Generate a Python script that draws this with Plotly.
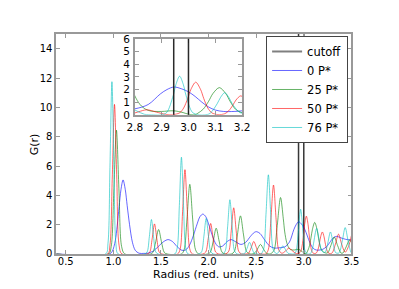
import plotly.graph_objects as go

# ---- data ----
series_names = ["0 P*", "25 P*", "50 P*", "76 P*"]
series_colors = ["rgba(0,0,255,0.6)", "rgba(0,128,0,0.6)", "rgba(255,0,0,0.6)", "rgba(0,191,191,0.6)"]

r_0 = [0.4, 0.96, 0.99, 1.02, 1.04, 1.06, 1.08, 1.102, 1.125, 1.145, 1.17, 1.2, 1.23, 1.27, 1.32,
       1.36, 1.42, 1.47, 1.53, 1.575, 1.62, 1.67, 1.72, 1.76, 1.8, 1.84, 1.88, 1.91, 1.94, 1.97,
       2.0, 2.04, 2.08, 2.11, 2.15, 2.19, 2.235, 2.28, 2.34, 2.39, 2.44, 2.48, 2.505, 2.54, 2.59,
       2.64, 2.69, 2.74, 2.8, 2.85, 2.895, 2.92, 2.946, 2.975, 3.0, 3.025, 3.05, 3.075, 3.1, 3.13,
       3.17, 3.2, 3.24, 3.28, 3.31, 3.345, 3.39, 3.44, 3.5]
g_0 = [0, 0, 0.2, 0.9, 1.9, 3.2, 4.4, 5.05, 4.4, 3.3, 2.0, 0.8, 0.25, 0.05, 0.04,
       0.05, 0.2, 0.5, 0.85, 0.98, 0.85, 0.5, 0.25, 0.28, 0.6, 1.25, 2.05, 2.55, 2.72, 2.55,
       2.05, 1.25, 0.65, 0.48, 0.55, 0.82, 0.98, 0.85, 0.65, 0.8, 1.2, 1.47, 1.52, 1.4, 0.95,
       0.55, 0.4, 0.42, 0.48, 0.82, 1.65, 2.0, 2.2, 2.05, 1.82, 1.45, 1.0, 0.62, 0.38, 0.27,
       0.27, 0.32, 0.5, 0.85, 1.1, 1.2, 1.1, 1.0, 0.95]

r_25 = [0.4, 0.95, 0.977, 1.0045, 1.032, 1.0595, 1.087, 1.12,
        1.39, 1.415, 1.445, 1.475, 1.505, 1.535, 1.565,
        1.715, 1.743, 1.773, 1.803, 1.833, 1.863, 1.895,
        1.99, 2.018, 2.049, 2.08, 2.111, 2.142, 2.175,
        2.24, 2.27, 2.3025, 2.335, 2.3675, 2.4, 2.44,
        2.455, 2.48, 2.5125, 2.545, 2.5775, 2.61, 2.64,
        2.65, 2.686, 2.721, 2.756, 2.785, 2.8, 2.82, 2.84, 2.86, 2.9, 2.945, 2.98, 3.0, 3.025,
        3.035, 3.055, 3.075, 3.091, 3.115, 3.139, 3.155, 3.175, 3.195, 3.215,
        3.25, 3.285, 3.32, 3.355, 3.39,
        3.41, 3.445, 3.48, 3.5]
g_25 = [0, 0, 0.5, 4.23, 8.45, 4.23, 0.5, 0,
        0, 0.1, 0.84, 1.67, 0.84, 0.1, 0,
        0, 0.29, 2.38, 4.75, 2.38, 0.29, 0,
        0, 0.11, 0.88, 1.76, 0.88, 0.11, 0,
        0, 0.16, 1.3, 2.6, 1.3, 0.16, 0,
        0, 0.04, 0.33, 0.65, 0.33, 0.04, 0,
        0.01, 0.23, 1.93, 3.85, 2.4, 1.5, 0.8, 0.45, 0.3, 0.27, 0.32, 0.18, 0.05, 0.02,
        0.13, 0.45, 1.07, 1.68, 2.15, 1.68, 1.07, 0.45, 0.2, 0.1,
        0.07, 0.58, 1.15, 0.58, 0.07,
        0.06, 0.48, 0.95, 0.8]

r_50 = [0.4, 0.94, 0.964, 0.988, 1.012, 1.036, 1.06, 1.09,
        1.355, 1.382, 1.407, 1.432, 1.457, 1.482, 1.51,
        1.675, 1.702, 1.727, 1.752, 1.777, 1.802, 1.83,
        1.94, 1.97, 1.996, 2.022, 2.048, 2.074, 2.105,
        2.18, 2.212, 2.238, 2.264, 2.29, 2.316, 2.345,
        2.395, 2.42, 2.4475, 2.475, 2.5025, 2.53, 2.56,
        2.6, 2.627, 2.6545, 2.682, 2.7095, 2.737, 2.77,
        2.8, 2.815, 2.845, 2.88, 2.915,
        2.94, 2.967, 2.982, 2.997, 3.009, 3.027, 3.045, 3.057, 3.072, 3.087, 3.11,
        3.135, 3.15, 3.165, 3.177, 3.195, 3.213, 3.225, 3.24, 3.255, 3.28,
        3.3, 3.3325, 3.365, 3.3975, 3.435, 3.4775, 3.5]
g_50 = [0, 0, 0.6, 5.1, 10.2, 5.1, 0.6, 0,
        0, 0.12, 1.02, 2.05, 1.02, 0.12, 0,
        0, 0.35, 2.88, 5.75, 2.88, 0.35, 0,
        0, 0.13, 1.04, 2.08, 1.04, 0.13, 0,
        0, 0.19, 1.58, 3.15, 1.58, 0.19, 0,
        0, 0.05, 0.43, 0.85, 0.43, 0.05, 0,
        0, 0.28, 2.35, 4.7, 2.35, 0.28, 0.05,
        0.15, 0.25, 0.4, 0.22, 0.04,
        0.01, 0.16, 0.54, 1.29, 2.01, 2.58, 2.01, 1.29, 0.54, 0.16, 0.02,
        0.09, 0.32, 0.75, 1.17, 1.5, 1.17, 0.75, 0.32, 0.09, 0.02,
        0.09, 0.68, 1.35, 0.68, 0.12, 0.65, 1.25]

r_76 = [0.4, 0.92, 0.943, 0.964, 0.985, 1.006, 1.027, 1.05,
        1.33, 1.355, 1.378, 1.4, 1.422, 1.445, 1.47,
        1.645, 1.67, 1.693, 1.715, 1.737, 1.76, 1.785,
        1.9, 1.927, 1.951, 1.975, 1.999, 2.023, 2.05,
        2.15, 2.176, 2.2, 2.224, 2.248, 2.272, 2.3,
        2.355, 2.38, 2.405, 2.43, 2.455, 2.48, 2.51,
        2.55, 2.578, 2.603, 2.628, 2.653, 2.678, 2.71,
        2.725, 2.752, 2.78, 2.808, 2.835, 2.87,
        2.9, 2.919, 2.943, 2.953, 2.967, 2.981, 2.991, 3.015, 3.04,
        3.06, 3.08, 3.107, 3.119, 3.135, 3.151, 3.163, 3.19, 3.21,
        3.225, 3.2525, 3.28, 3.3075, 3.335, 3.36,
        3.375, 3.405, 3.435, 3.465, 3.495, 3.5]
g_76 = [0, 0, 0.7, 5.9, 11.75, 5.9, 0.7, 0,
        0, 0.14, 1.18, 2.35, 1.18, 0.14, 0,
        0, 0.4, 3.3, 6.6, 3.3, 0.4, 0,
        0, 0.15, 1.21, 2.42, 1.21, 0.15, 0,
        0, 0.22, 1.85, 3.7, 1.85, 0.22, 0,
        0, 0.05, 0.4, 0.8, 0.4, 0.05, 0,
        0, 0.32, 2.7, 5.4, 2.7, 0.32, 0.03,
        0.05, 0.3, 0.55, 0.3, 0.05, 0,
        0, 0.19, 1.52, 2.38, 3.05, 2.38, 1.52, 0.19, 0,
        0, 0.11, 0.88, 1.36, 1.75, 1.36, 0.88, 0.2, 0.12,
        0.12, 0.75, 1.5, 0.75, 0.09, 0.05,
        0.11, 0.9, 1.8, 0.9, 0.11, 0.08]

series_r = [r_0, r_25, r_50, r_76]
series_g = [g_0, g_25, g_50, g_76]

cutoff_r = [2.945, 3.0]
cutoff_name = "cutoff"

main_xticks = [0.5, 1.0, 1.5, 2.0, 2.5, 3.0, 3.5]
main_yticks = [0, 2, 4, 6, 8, 10, 12, 14]
inset_xticks = [2.8, 2.9, 3.0, 3.1, 3.2]
inset_yticks = [0, 1, 2, 3, 4, 5, 6]

x_title = "Radius (red. units)"
y_title = "G(r)"

# ---- figure ----
# The page body keeps its default 8px margin, so the figure is 16px smaller
# than the 399x289 window and every page position is shifted by 8px.
OFF = 8
W, H = 399 - 2 * OFF, 289 - 2 * OFF
FONT = "DejaVu Sans"
fig = go.Figure()

# legend-only entry for the cutoff lines
fig.add_trace(go.Scatter(x=[None], y=[None], mode="lines", name=cutoff_name,
                         line=dict(color="rgba(0,0,0,0.5)", width=2)))

for name, col, rr, gg in zip(series_names, series_colors, series_r, series_g):
    fig.add_trace(go.Scatter(x=rr, y=gg, mode="lines", name=name,
                             line=dict(color=col, width=1, shape="spline", smoothing=0.9),
                             xaxis="x", yaxis="y", hoverinfo="skip"))
for name, col, rr, gg in zip(series_names, series_colors, series_r, series_g):
    fig.add_trace(go.Scatter(x=rr, y=gg, mode="lines", name=name, showlegend=False,
                             line=dict(color=col, width=1, shape="spline", smoothing=0.9),
                             xaxis="x2", yaxis="y2", hoverinfo="skip"))

for c in cutoff_r:
    fig.add_shape(type="line", xref="x", yref="y domain", x0=c, x1=c, y0=0, y1=1,
                  line=dict(color="rgba(20,20,20,0.85)", width=1.5), layer="below")
    fig.add_shape(type="line", xref="x2", yref="y2 domain", x0=c, x1=c, y0=0, y1=1,
                  line=dict(color="rgba(20,20,20,0.9)", width=1.5), layer="above")

axis_common = dict(showline=True, linecolor="#999999", linewidth=1.5, mirror="ticks",
                   ticks="inside", ticklen=4, tickcolor="#999999", showgrid=False,
                   zeroline=False)

# page-pixel positions from the reference, converted to figure pixels
L, R, T, B = 50 - OFF, 358 - OFF, 29 - OFF, 259 - OFF
IL, IR, IT, IB = 132 - OFF, 244 - OFF, 34 - OFF, 113.5 - OFF
LEGX, LEGY = 269 - OFF, 31 - OFF
XTY = 280.5 - OFF
YTX = 27 - OFF

fig.update_layout(
    width=W, height=H,
    margin=dict(l=0, r=0, t=0, b=0),
    paper_bgcolor="white", plot_bgcolor="white",
    font=dict(family=FONT, size=11, color="black"),
    xaxis=dict(domain=[L / W, R / W], range=[0.4, 3.5], tickvals=main_xticks,
               ticktext=[f"{v:.1f}" for v in main_xticks], anchor="y", ticklabelstandoff=-3,
               tickfont=dict(family=FONT, size=10, color="black"), **axis_common),
    yaxis=dict(domain=[1 - B / H, 1 - T / H], range=[0, 15], tickvals=main_yticks,
               anchor="x", tickfont=dict(family=FONT, size=10, color="black"), **axis_common),
    xaxis2=dict(domain=[IL / W, IR / W], range=[2.8, 3.2], tickvals=inset_xticks,
                ticktext=[f"{v:.1f}" for v in inset_xticks], anchor="y2", ticklabelstandoff=2,
                tickfont=dict(family=FONT, size=10.5, color="black"), **axis_common),
    yaxis2=dict(domain=[1 - IB / H, 1 - IT / H], range=[0, 6], tickvals=inset_yticks,
                anchor="x2", ticklabelstandoff=1,
                tickfont=dict(family=FONT, size=10.5, color="black"), **axis_common),
    legend=dict(x=LEGX / W, y=1 - LEGY / H, xanchor="left", yanchor="top",
                bgcolor="white", bordercolor="#444444", borderwidth=1,
                font=dict(family=FONT, size=11.5, color="black"),
                itemwidth=30, tracegroupgap=0),
    showlegend=True,
    annotations=[
        dict(text=x_title, xref="paper", yref="paper", x=(L + R) / 2 / W, y=1 - XTY / H,
             xanchor="center", yanchor="middle", showarrow=False,
             font=dict(family=FONT, size=11, color="black")),
        dict(text=y_title, xref="paper", yref="paper", x=YTX / W, y=1 - (T + B) / 2 / H,
             xanchor="center", yanchor="middle", showarrow=False, textangle=-90,
             font=dict(family=FONT, size=11, color="black")),
    ],
)

fig.write_html("out.html", config={"displayModeBar": False})
